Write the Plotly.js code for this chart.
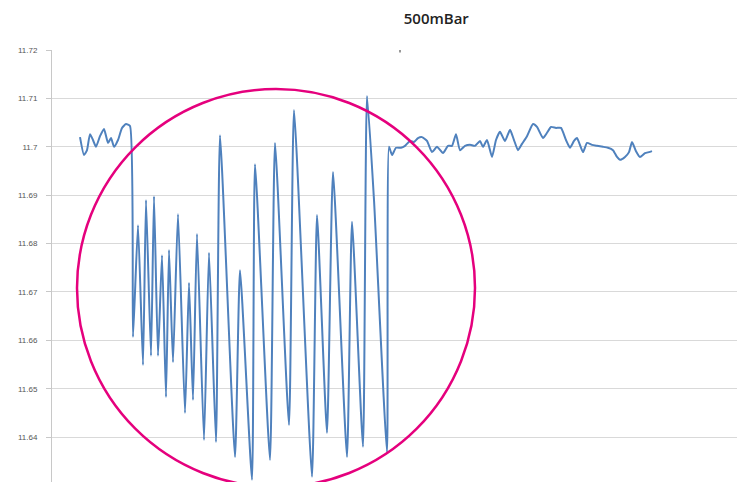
<!DOCTYPE html>
<html>
<head>
<meta charset="utf-8">
<script src="https://cdn.plot.ly/plotly-3.0.1.min.js"></script>
<style>html,body{margin:0;padding:0;background:#fff;}#chart{width:737px;height:482px;}</style>
</head>
<body>
<div id="chart"></div>
<script>
// sample index (time axis, unlabeled in the source)
const sample = [
  0, 4, 7, 10, 13, 16, 20, 24, 28, 31, 34, 38, 42, 46, 50,
  53, 58, 63, 66, 71, 74, 78, 82, 86, 89, 93, 98, 105, 109, 113, 117, 124, 129, 136, 140,
  155, 160, 172, 175, 190, 195, 209, 214, 232, 237, 247, 253, 267, 272, 283, 287, 294, 307,
  309, 312, 316, 321, 325, 330, 334, 338, 342, 347, 352, 357, 363, 368, 372, 376, 380, 385, 390, 395,
  400, 403, 407, 412, 416, 420, 425, 430, 434, 438, 442, 447, 453, 457, 463, 467, 471, 476, 481, 486,
  490, 494, 497, 503, 507, 512, 517, 523, 528, 533, 537, 540, 545, 549, 552, 556, 560, 565, 569, 572
];
// pressure reading (bar)
const pressure = [
  11.7020, 11.6983, 11.6993, 11.7026, 11.7014, 11.7000, 11.7022, 11.7037, 11.7008, 11.7018, 11.7000, 11.7014, 11.7039, 11.7047, 11.7043,
  11.6607, 11.6838, 11.6549, 11.6890, 11.6568, 11.6898, 11.6568, 11.6776, 11.6483, 11.6787, 11.6555, 11.6861, 11.6450, 11.6719, 11.6477, 11.6820, 11.6394, 11.6781, 11.6390, 11.7024,
  11.6359, 11.6745, 11.6312, 11.6964, 11.6353, 11.7008, 11.6425, 11.7076, 11.6318, 11.6859, 11.6409, 11.6948, 11.6359, 11.6845, 11.6380, 11.7105, 11.6890, 11.6369,
  11.7000, 11.6983, 11.6998, 11.6998, 11.7002, 11.7012, 11.7010, 11.7018, 11.7020, 11.7012, 11.6989, 11.7000, 11.6987, 11.7002, 11.7002, 11.7026, 11.6993, 11.7002, 11.7004, 11.7002,
  11.7012, 11.7000, 11.7014, 11.6979, 11.7014, 11.7031, 11.7012, 11.7035, 11.7014, 11.6993, 11.7006, 11.7022, 11.7047, 11.7041, 11.7018, 11.7029, 11.7041, 11.7039, 11.7039, 11.7014,
  11.6998, 11.7012, 11.7018, 11.6989, 11.7008, 11.7004, 11.7002, 11.7000, 11.6998, 11.6993, 11.6979, 11.6973, 11.6979, 11.6989, 11.7010, 11.6991, 11.6979, 11.6987, 11.6989, 11.6991
];
const yTickVals = [11.64, 11.65, 11.66, 11.67, 11.68, 11.69, 11.70, 11.71, 11.72];
const yTickText = ["11.64", "11.65", "11.66", "11.67", "11.68", "11.69", "11.7", "11.71", "11.72"];
const chartTitle = "500mBar";

const trace = {
  x: sample, y: pressure, type: 'scatter', mode: 'lines',
  line: {color: '#4f81bd', width: 2, shape: 'spline', smoothing: 0.5}, hoverinfo: 'skip'
};

const layout = {
  width: 737, height: 482,
  margin: {l: 52, r: 0, t: 50, b: 0, pad: 0},
  paper_bgcolor: '#ffffff', plot_bgcolor: '#ffffff',
  showlegend: false,
  title: {
    text: chartTitle, xref: 'container', yref: 'container',
    x: 0.592, y: 0.962, xanchor: 'center', yanchor: 'middle',
    font: {family: 'Open Sans, Liberation Sans, sans-serif', size: 15, color: '#222222', weight: 600}
  },
  xaxis: {
    range: [-28, 657], showgrid: false, zeroline: false, showline: false,
    showticklabels: false, ticks: '', fixedrange: true
  },
  yaxis: {
    range: [11.63074, 11.72], tickmode: 'array', tickvals: yTickVals, ticktext: yTickText,
    showgrid: true, gridcolor: '#d9d9d9', gridwidth: 1, zeroline: false,
    showline: true, linecolor: '#c8c8c8', linewidth: 1,
    ticks: 'outside', ticklen: 5, tickcolor: '#c8c8c8', automargin: false,
    ticklabelstandoff: 7,
    tickfont: {family: 'Liberation Sans, sans-serif', size: 8, color: '#555555'}, fixedrange: true
  },
  shapes: [
    {type: 'circle', xref: 'x', yref: 'y', x0: -3, x1: 395, y0: 11.62971, y1: 11.71194,
     line: {color: '#e5007d', width: 2.5}, layer: 'above'},
    {type: 'line', xref: 'x', yref: 'y', x0: 320, x1: 320, y0: 11.7195, y1: 11.7205,
     line: {color: '#999999', width: 2}}
  ]
};

Plotly.newPlot('chart', [trace], layout, {staticPlot: true, displayModeBar: false});
</script>
</body>
</html>
